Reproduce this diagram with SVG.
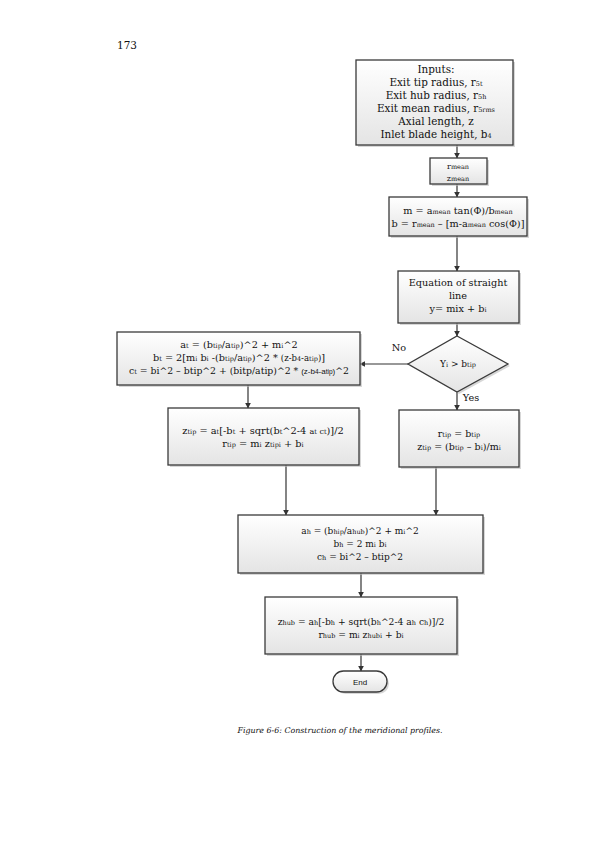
<svg xmlns="http://www.w3.org/2000/svg" width="595" height="842" viewBox="0 0 595 842">
<defs>
<linearGradient id="g" x1="0" y1="0" x2="0" y2="1">
<stop offset="0" stop-color="#ffffff"/>
<stop offset="1" stop-color="#e4e4e4"/>
</linearGradient>
<marker id="ar" viewBox="0 0 10 10" refX="9" refY="5" markerWidth="6" markerHeight="6" orient="auto" markerUnits="userSpaceOnUse">
<path d="M0,0 L10,5 L0,10 Z" fill="#333"/>
</marker>
</defs>
<style>
.b{fill:url(#g);stroke:#3a3a3a;stroke-width:1.3}
.s{fill:#bdbdbd;opacity:0.6}
.t{font-family:"DejaVu Serif","Liberation Serif",serif;font-size:9.7px;fill:#111;text-anchor:middle}
.sm{font-size:6.5px}
.c{stroke:#333;stroke-width:1.2;fill:none;marker-end:url(#ar)}
</style>
<rect width="595" height="842" fill="#fff"/>
<text x="117" y="49" style="font-family:'DejaVu Serif',serif;font-size:10.5px;fill:#111">173</text>

<g id="connectors">
<line class="c" x1="457" y1="145" x2="457" y2="158"/>
<line class="c" x1="457" y1="184" x2="457" y2="197"/>
<line class="c" x1="457" y1="236" x2="457" y2="271"/>
<line class="c" x1="457" y1="323" x2="457" y2="336"/>
<line class="c" x1="408" y1="364" x2="360" y2="364"/>
<line class="c" x1="457" y1="392" x2="457" y2="410"/>
<line class="c" x1="248" y1="385" x2="248" y2="408"/>
<line class="c" x1="286" y1="465" x2="286" y2="515"/>
<line class="c" x1="436" y1="467" x2="436" y2="515"/>
<line class="c" x1="361" y1="573" x2="361" y2="597"/>
<line class="c" x1="361" y1="654" x2="361" y2="671"/>
<text class="t" x="399" y="351">No</text>
<text class="t" x="471" y="401">Yes</text>
</g>

<g id="inputs">
<rect class="s" x="358" y="62" width="157" height="85"/>
<rect class="b" x="356" y="60" width="157" height="85"/>
<g style="font-size:10.4px">
<text class="t" x="436" y="73" style="font-size:10.4px">Inputs:</text>
<text class="t" x="436" y="86" style="font-size:10.4px">Exit tip radius, r<tspan class="sm">5t</tspan></text>
<text class="t" x="436" y="99" style="font-size:10.4px">Exit hub radius, r<tspan class="sm">5h</tspan></text>
<text class="t" x="436" y="112" style="font-size:10.4px">Exit mean radius, r<tspan class="sm">5rms</tspan></text>
<text class="t" x="436" y="125" style="font-size:10.4px">Axial length, z</text>
<text class="t" x="436" y="138" style="font-size:10.4px">Inlet blade height, b<tspan class="sm">4</tspan></text>
</g>
</g>

<g id="mean">
<rect class="s" x="432" y="160" width="57" height="26"/>
<rect class="b" x="430" y="158" width="57" height="26"/>
<text class="t" x="458" y="169" style="font-size:8px">r<tspan class="sm">mean</tspan></text>
<text class="t" x="458" y="181" style="font-size:8px">z<tspan class="sm">mean</tspan></text>
</g>

<g id="mb">
<rect class="s" x="391" y="199" width="138" height="39"/>
<rect class="b" x="389" y="197" width="138" height="39"/>
<text class="t" x="458" y="214">m = a<tspan class="sm">mean</tspan> tan(Φ)/b<tspan class="sm">mean</tspan></text>
<text class="t" x="458" y="227">b = r<tspan class="sm">mean</tspan> – [m-a<tspan class="sm">mean</tspan> cos(Φ)]</text>
</g>

<g id="line">
<rect class="s" x="400" y="273" width="121" height="52"/>
<rect class="b" x="398" y="271" width="121" height="52"/>
<text class="t" x="458" y="286">Equation of straight</text>
<text class="t" x="458" y="299">line</text>
<text class="t" x="458" y="312">y= mix + b<tspan class="sm">i</tspan></text>
</g>

<g id="decision">
<polygon points="459,338 510,366 459,394 410,366" class="s"/>
<polygon points="457,336 508,364 457,392 408,364" class="b"/>
<text class="t" x="458" y="367" style="font-size:9px">Y<tspan class="sm">i</tspan> &gt; b<tspan class="sm">tip</tspan></text>
</g>

<g id="tipcoef">
<rect class="s" x="119" y="334" width="243" height="53"/>
<rect class="b" x="117" y="332" width="243" height="53"/>
<text class="t" x="239" y="348">a<tspan class="sm">t</tspan> = (b<tspan class="sm">tip</tspan>/a<tspan class="sm">tip</tspan>)^2 + m<tspan class="sm">i</tspan>^2</text>
<text class="t" x="239" y="361">b<tspan class="sm">t</tspan> = 2[m<tspan class="sm">i</tspan> b<tspan class="sm">i</tspan> -(b<tspan class="sm">tip</tspan>/a<tspan class="sm">tip</tspan>)^2 * <tspan style="font-size:8.5px">(z-b<tspan class="sm">4</tspan>-a<tspan class="sm">tip</tspan>)</tspan>]</text>
<text class="t" x="239" y="374" style="font-size:9.3px">c<tspan class="sm">t</tspan> = bi^2 – btip^2 + (bitp/atip)^2 * <tspan style="font-size:8px;font-family:'Liberation Sans',sans-serif">(z-b<tspan class="sm">4</tspan>-a<tspan class="sm">tip</tspan>)</tspan>^2</text>
</g>

<g id="ztip">
<rect class="s" x="170" y="410" width="191" height="57"/>
<rect class="b" x="168" y="408" width="191" height="57"/>
<text class="t" x="263" y="434" style="font-size:9.8px">z<tspan class="sm">tip</tspan> = a<tspan class="sm">t</tspan>[-b<tspan class="sm">t</tspan> + sqrt(b<tspan class="sm">t</tspan>^2-4 <tspan style="font-size:8px">a<tspan class="sm">t</tspan> c<tspan class="sm">t</tspan></tspan>)]/2</text>
<text class="t" x="263" y="447" style="font-size:9.8px">r<tspan class="sm">tip</tspan> = m<tspan class="sm">i</tspan> z<tspan class="sm">tipi</tspan> + b<tspan class="sm">i</tspan></text>
</g>

<g id="rtip">
<rect class="s" x="401" y="412" width="120" height="57"/>
<rect class="b" x="399" y="410" width="120" height="57"/>
<text class="t" x="459" y="437" style="font-size:9.5px">r<tspan class="sm">tip</tspan> = b<tspan class="sm">tip</tspan></text>
<text class="t" x="459" y="450" style="font-size:9.5px">z<tspan class="sm">tip</tspan> = (b<tspan class="sm">tip</tspan> – b<tspan class="sm">i</tspan>)/m<tspan class="sm">i</tspan></text>
</g>

<g id="hubcoef">
<rect class="s" x="240" y="517" width="245" height="58"/>
<rect class="b" x="238" y="515" width="245" height="58"/>
<text class="t" x="360" y="534" style="font-size:9px">a<tspan class="sm">h</tspan> = (b<tspan class="sm">hip</tspan>/a<tspan class="sm">hub</tspan>)^2 + m<tspan class="sm">i</tspan>^2</text>
<text class="t" x="360" y="547" style="font-size:9px">b<tspan class="sm">h</tspan> = 2 m<tspan class="sm">i</tspan> b<tspan class="sm">i</tspan></text>
<text class="t" x="360" y="560" style="font-size:9px">c<tspan class="sm">h</tspan> = bi^2 – btip^2</text>
</g>

<g id="zhub">
<rect class="s" x="267" y="599" width="192" height="57"/>
<rect class="b" x="265" y="597" width="192" height="57"/>
<text class="t" x="361" y="625" style="font-size:9.2px">z<tspan class="sm">hub</tspan> = a<tspan class="sm">h</tspan>[-b<tspan class="sm">h</tspan> + sqrt(b<tspan class="sm">h</tspan>^2-4 a<tspan class="sm">h</tspan> c<tspan class="sm">h</tspan>)]/2</text>
<text class="t" x="361" y="638" style="font-size:9.2px">r<tspan class="sm">hub</tspan> = m<tspan class="sm">i</tspan> z<tspan class="sm">hubi</tspan> + b<tspan class="sm">i</tspan></text>
</g>

<g id="end">
<rect class="s" x="335" y="673" width="54" height="21" rx="10.5"/>
<rect class="b" x="333" y="671" width="54" height="21" rx="10.5"/>
<text x="360" y="685" style="font-family:'Liberation Sans',sans-serif;font-size:8px;fill:#111;text-anchor:middle">End</text>
</g>

<text x="340" y="733" style="font-family:'DejaVu Serif',serif;font-size:7.9px;font-style:italic;fill:#111;text-anchor:middle">Figure 6-6: Construction of the meridional profiles.</text>
</svg>
